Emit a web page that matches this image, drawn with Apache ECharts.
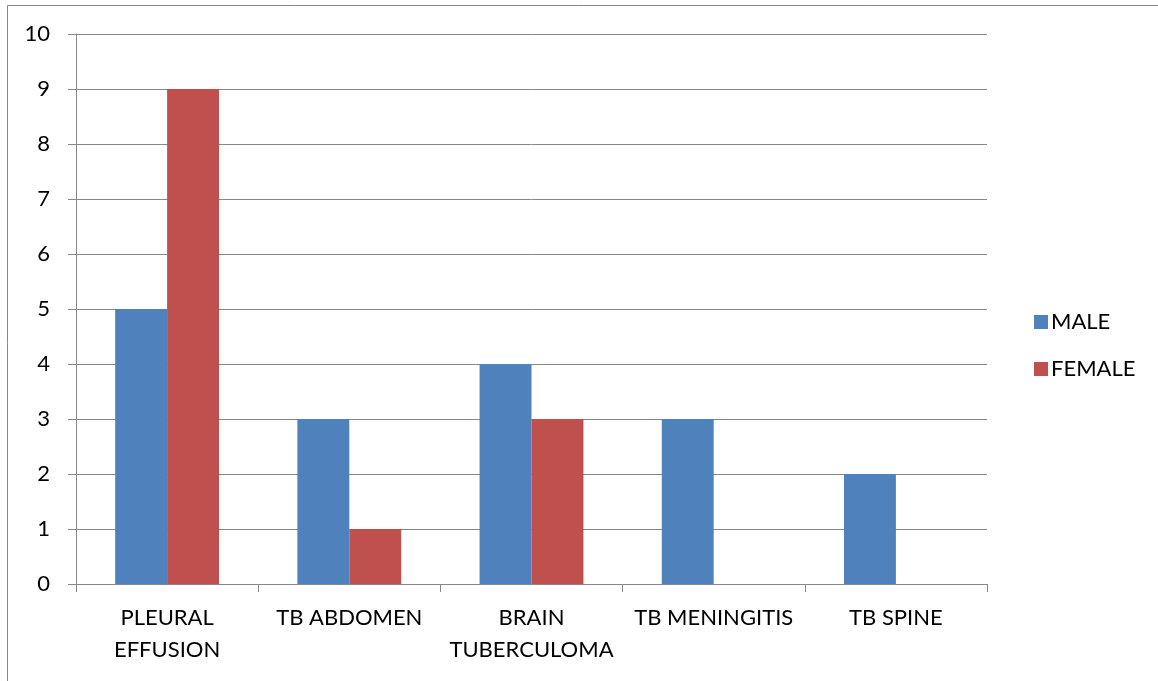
<!DOCTYPE html>
<html>
<head>
<meta charset="utf-8">
<script src="https://cdn.jsdelivr.net/npm/echarts@6/dist/echarts.min.js"></script>
<style>
  html, body { margin: 0; padding: 0; background: #fff; }
  #chart { width: 1158px; height: 681px; }
</style>
</head>
<body>
<div id="chart"></div>
<script>
// Tuberculosis sites by sex
const categories = ['PLEURAL\nEFFUSION', 'TB ABDOMEN', 'BRAIN\nTUBERCULOMA', 'TB MENINGITIS', 'TB SPINE'];
const maleValues = [5, 3, 4, 3, 2];
const femaleValues = [9, 1, 3, 0, 0];
const seriesNames = ['MALE', 'FEMALE'];

const FONT = 'Lato, "Open Sans", sans-serif';
const AXIS_GRAY = '#878787';

const chart = echarts.init(document.getElementById('chart'), null, { renderer: 'canvas' });
chart.setOption({
  backgroundColor: '#ffffff',
  animation: false,
  textStyle: { fontFamily: FONT },
  graphic: [{
    type: 'rect',
    shape: { x: 7.5, y: 5.5, width: 1200, height: 720 },
    style: { fill: 'none', stroke: AXIS_GRAY, lineWidth: 1 },
    silent: true
  }],
  grid: { left: 76, right: 171, top: 34, bottom: 97, containLabel: false },
  legend: {
    orient: 'vertical',
    left: 1029,
    top: 306,
    itemWidth: 14,
    itemHeight: 14,
    itemGap: 25,
    icon: 'rect',
    textStyle: { fontFamily: FONT, fontSize: 22, lineHeight: 22, color: '#000', padding: [0, 0, 0, -2] },
    data: seriesNames
  },
  xAxis: {
    type: 'category',
    data: categories,
    axisLine: { lineStyle: { color: AXIS_GRAY, width: 1 } },
    axisTick: { show: true, length: 8, alignWithLabel: false, lineStyle: { color: AXIS_GRAY } },
    axisLabel: {
      interval: 0,
      margin: 18,
      color: '#000',
      fontFamily: FONT,
      fontSize: 22,
      lineHeight: 32,
      align: 'center'
    }
  },
  yAxis: {
    type: 'value',
    min: 0,
    max: 10,
    interval: 1,
    axisLine: { show: true, lineStyle: { color: AXIS_GRAY, width: 1 } },
    axisTick: { show: true, length: 8, lineStyle: { color: AXIS_GRAY } },
    splitLine: { show: true, lineStyle: { color: AXIS_GRAY, width: 1 } },
    axisLabel: { margin: 26, color: '#000', fontFamily: FONT, fontSize: 22 }
  },
  series: [
    {
      name: seriesNames[0],
      type: 'bar',
      data: maleValues,
      barGap: '0%',
      barCategoryGap: '43%',
      itemStyle: { color: '#4F81BD' }
    },
    {
      name: seriesNames[1],
      type: 'bar',
      data: femaleValues,
      barGap: '0%',
      barCategoryGap: '43%',
      itemStyle: { color: '#C0504D' }
    }
  ]
});
</script>
</body>
</html>
